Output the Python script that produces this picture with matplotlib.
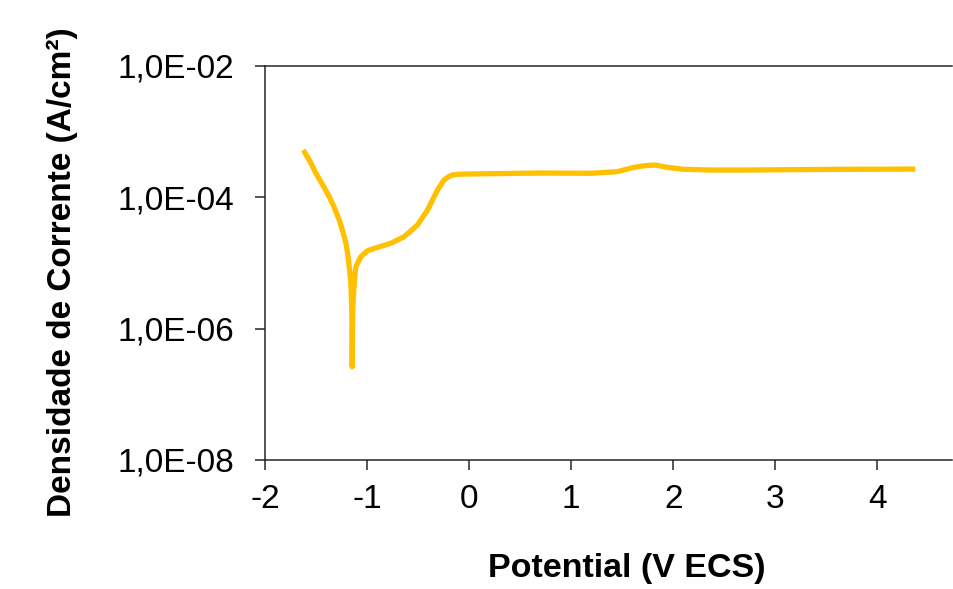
import matplotlib
matplotlib.use("Agg")
import matplotlib.pyplot as plt
from matplotlib.ticker import FixedLocator, FixedFormatter, NullLocator

# Data (potential in V ECS, log10 of current density in A/cm2)
potential = [-1.625, -1.560, -1.501, -1.435, -1.371, -1.320, -1.273, -1.238,
             -1.207, -1.188, -1.175, -1.165, -1.158, -1.149, -1.146,
             -1.141, -1.136, -1.128, -1.120, -1.110, -1.061, -0.995, -0.897,
             -0.767, -0.637, -0.506, -0.408, -0.310, -0.246, -0.200, -0.163,
             -0.100, -0.017, 0.211, 0.700, 1.190, 1.451, 1.614, 1.720,
             1.826, 1.940, 2.103, 2.364, 2.660, 3.636, 4.370]
log_current = [-3.279, -3.450, -3.634, -3.810, -3.990, -4.160, -4.345, -4.520,
               -4.700, -4.880, -5.056, -5.200, -5.310, -5.770, -6.580,
               -5.850, -5.550, -5.350, -5.200, -5.056, -4.904, -4.812, -4.761,
               -4.700, -4.599, -4.421, -4.193, -3.888, -3.736, -3.685, -3.660,
               -3.648, -3.645, -3.640, -3.630, -3.634, -3.609, -3.543, -3.518,
               -3.508, -3.543, -3.573, -3.584, -3.585, -3.573, -3.570]
current = [10 ** v for v in log_current]

x_ticks = [-2, -1, 0, 1, 2, 3, 4]
y_ticks = [1e-8, 1e-6, 1e-4, 1e-2]
y_tick_labels = ["1,0E-08", "1,0E-06", "1,0E-04", "1,0E-02"]

plt.rcParams['font.family'] = ['Liberation Sans', 'DejaVu Sans']
plt.rcParams['axes.unicode_minus'] = False

fig = plt.figure(figsize=(9.54, 5.89), dpi=100)
ax = fig.add_axes([265 / 954, 1 - 460 / 589, (952 - 265) / 954, (460 - 66) / 589])

ax.plot(potential, current, color="#FFC000", lw=3.8, solid_capstyle="butt",
        solid_joinstyle="round")

ax.set_yscale("log")
ax.set_ylim(1e-8, 1e-2)
ax.set_xlim(-2, 4.73)

ax.yaxis.set_major_locator(FixedLocator(y_ticks))
ax.yaxis.set_major_formatter(FixedFormatter(y_tick_labels))
ax.yaxis.set_minor_locator(NullLocator())
ax.xaxis.set_major_locator(FixedLocator(x_ticks))
ax.xaxis.set_minor_locator(NullLocator())

spine_color = "#262626"
for side in ["left", "bottom", "top"]:
    ax.spines[side].set_color(spine_color)
    ax.spines[side].set_linewidth(1.1)
ax.spines["right"].set_visible(False)

ax.tick_params(axis="y", direction="out", length=7, width=1.1, color=spine_color,
               labelsize=24, pad=15, labelcolor="black")
ax.tick_params(axis="x", direction="out", length=7, width=1.1, color=spine_color,
               labelsize=24, pad=10, labelcolor="black")

ax.set_xlabel("Potential (V ECS)", fontsize=24.5, fontweight="bold")
ax.set_ylabel("Densidade de Corrente (A/cm²)", fontsize=24, fontweight="bold")
ax.xaxis.set_label_coords((627 - 265) / (952 - 265), (460 - 568) / 394)
ax.yaxis.set_label_coords((62 - 265) / (952 - 265), (460 - 272) / 394)
ax.xaxis.label.set_va("center")
ax.yaxis.label.set_va("center")

fig.savefig("out.png", dpi=100)
